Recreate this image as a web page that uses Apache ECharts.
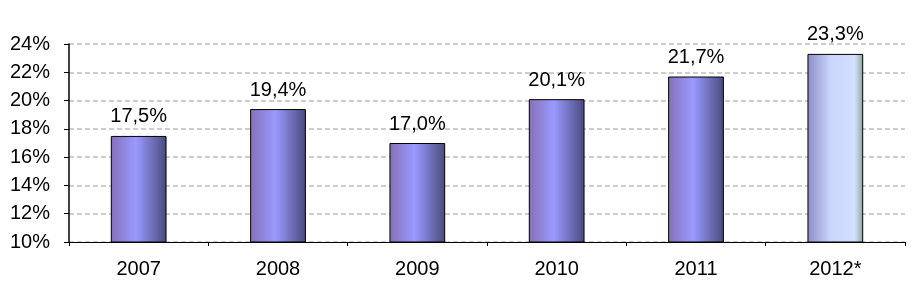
<!DOCTYPE html>
<html><head><meta charset="utf-8">
<script src="https://cdn.jsdelivr.net/npm/echarts@6/dist/echarts.min.js"></script>
<style>html,body{margin:0;padding:0;background:#fff}#c{width:922px;height:287px}</style>
</head><body><div id="c"></div>
<script>
const categories = ['2007','2008','2009','2010','2011','2012*'];
const values = [17.5, 19.4, 17.0, 20.1, 21.7, 23.3];
const yMin = 10, yMax = 24, yStep = 2;

const normalFill = new echarts.graphic.LinearGradient(0,0,1,0,[
  {offset:0,color:'#8670b8'},{offset:0.45,color:'#9a9aff'},{offset:1,color:'#4a4a7c'}]);
const lastFill = new echarts.graphic.LinearGradient(0,0,1,0,[
  {offset:0,color:'#8c8cc8'},{offset:0.4,color:'#c8d4fa'},{offset:0.85,color:'#d4e0ff'},{offset:1,color:'#8ca890'}]);

const FONT = 'Liberation Sans, Arial';
const chart = echarts.init(document.getElementById('c'));
chart.setOption({
  animation:false,
  grid:{left:69,right:17,top:44,bottom:45},
  xAxis:{type:'category',data:categories,boundaryGap:true,
    axisLine:{lineStyle:{color:'#000',width:1}},
    axisTick:{show:true,length:4,lineStyle:{color:'#000'}},
    axisLabel:{color:'#000',fontSize:20,fontFamily:FONT,margin:17}},
  yAxis:{type:'value',min:yMin,max:yMax,interval:yStep,
    axisLine:{show:true,lineStyle:{color:'#000',width:1.5}},
    axisTick:{show:true,length:5,lineStyle:{color:'#000'}},
    axisLabel:{color:'#000',fontSize:20,fontFamily:FONT,margin:19,formatter:v=>v+'%'},
    splitLine:{show:true,lineStyle:{color:'#bdbdbd',type:[5,3],width:1.5}}},
  series:[{type:'bar',barWidth:'40%',
    data:values.map((v,i)=>({value:v,itemStyle:{color:i===values.length-1?lastFill:normalFill,borderColor:'#000',borderWidth:1}})),
    label:{show:true,position:'top',distance:9,color:'#000',fontSize:20,fontFamily:FONT,
      formatter:p=>p.value.toFixed(1).replace('.',',')+'%'}}]
});
</script></body></html>
